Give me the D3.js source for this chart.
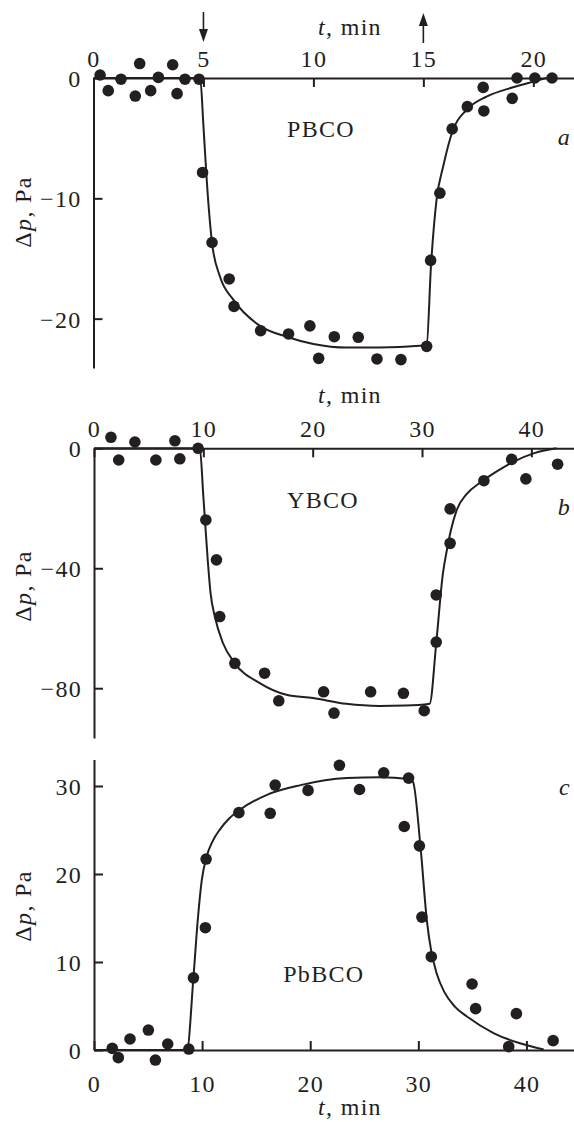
<!DOCTYPE html>
<html>
<head>
<meta charset="utf-8">
<script src="https://cdn.jsdelivr.net/npm/d3@7"></script>
<style>
  body { margin: 0; background: #fff; }
  svg text { font-family: "Liberation Serif", "Times New Roman", serif; font-size: 24px; fill: #231f20; letter-spacing: 1.3px; }
</style>
</head>
<body>
<div id="chart"></div>
<script>
// ---- data (t in min, dp in Pa) ----

// panel a, PBCO
var pbcoT = [0.3, 0.67, 1.25, 1.9, 2.1, 2.6, 2.95, 3.6, 3.8, 4.16, 4.8, 4.96, 5.39, 6.17, 6.39, 7.6, 8.87,
             9.84, 10.24, 10.95, 12.04, 12.89, 13.98, 15.15, 15.33, 15.75, 16.31, 17.0, 17.72, 17.75,
             19.04, 19.26, 20.07, 20.85];
var pbcoP = [0.25, -1.05, -0.1, -1.5, 1.2, -1.05, 0.05, 1.1, -1.3, -0.1, -0.1, -7.85, -13.67, -16.7, -18.98, -21.0, -21.27,
             -20.6, -23.3, -21.5, -21.55, -23.35, -23.4, -22.3, -15.16, -9.57, -4.23, -2.38, -0.78, -2.74,
             -1.69, 0, 0, 0];
var pbcoFitT = [0, 4.85, 5.0, 5.15, 5.39, 5.75, 6.35, 7.57, 8.78, 10.0, 11.5, 13.0, 14.84, 15.15,
                15.35, 15.6, 15.9, 16.35, 16.96, 17.87, 19.08, 20.0, 20.6];
var pbcoFitP = [0, 0, -4, -8.5, -13.7, -16.5, -18.4, -20.6, -21.5, -22.1, -22.4, -22.4, -22.25, -22.15,
                -15.5, -10.1, -7.36, -4.3, -2.66, -1.55, -0.77, -0.3, 0];

// panel b, YBCO
var ybcoT = [1.55, 2.26, 3.74, 5.66, 7.4, 7.85, 9.52, 10.23, 11.2, 11.5, 12.88, 15.6, 16.9, 21.0, 21.95,
             25.3, 28.3, 30.2, 31.3, 31.3, 32.57, 32.57, 35.66, 38.2, 39.5, 42.4];
var ybcoP = [3.67, -3.9, 2.1, -3.9, 2.5, -3.5, 0, -23.9, -37.2, -56.1, -71.7, -75, -84.2, -81.2, -88.3,
             -81.2, -81.7, -87.5, -64.6, -48.9, -31.7, -20.2, -10.8, -3.7, -10.2, -5.3];
var ybcoFitT = [0, 9.68, 10.0, 10.4, 10.66, 11.05, 11.8, 12.88, 15.16, 17.6, 20.03, 23.08, 26.1, 28.5, 30.7,
                31.3, 31.9, 32.27, 32.63, 33.17, 34.1, 35.3, 36.8, 38.36, 40.2, 42.3];
var ybcoFitP = [0, 0, -16, -37.2, -48.3, -56.1, -65, -71.7, -78.3, -82.2, -83.3, -85.2, -85.9, -85.8, -85.2,
                -65, -42, -34, -27.5, -20.6, -15.2, -11.5, -7.8, -4.5, -1.7, 0];

// panel c, PbBCO
var pbbcoT = [1.69, 2.25, 3.33, 5.03, 5.68, 6.82, 8.77, 9.2, 10.3, 10.37, 13.4, 16.3, 16.76, 19.8, 22.7,
              24.56, 26.8, 28.7, 29.1, 30.1, 30.33, 31.2, 34.97, 35.3, 38.36, 39.07, 42.47];
var pbbcoP = [0.19, -0.87, 1.25, 2.27, -1.14, 0.68, 0.11, 8.2, 13.9, 21.7, 26.97, 26.9, 30.1, 29.5, 32.35,
              29.6, 31.5, 25.4, 30.9, 23.2, 15.1, 10.6, 7.5, 4.7, 0.38, 4.13, 1.06];
var pbbcoFitT = [0, 8.6, 9.2, 9.6, 9.97, 10.4, 11.0, 11.67, 12.5, 13.5, 16.0, 19.1, 23.4, 26.5, 29.1, 29.5,
                 30.2, 30.8, 31.2, 31.7, 32.4, 33.4, 34.5, 37.0, 39.4, 41.6];
var pbbcoFitP = [0, 0, 8.3, 14.8, 19.3, 21.9, 23.8, 25.1, 26.3, 27.3, 29, 30.1, 30.9, 31.0, 30.8, 30.5,
                 23.1, 14.6, 11.2, 8.7, 6.6, 4.9, 3.8, 1.9, 0.76, 0.05];

// tick values
var xTicksA = [0, 5, 10, 15, 20];
var xTicksBC = [0, 10, 20, 30, 40];
var yTicksA = [0, -10, -20];
var yTicksB = [0, -40, -80];
var yTicksC = [0, 10, 20, 30];

// switch on / switch off times for the arrows (panel a)
var arrowTimes = [5, 15];

var ink = "#231f20";

var svg = d3.select("#chart")
    .append("svg")
    .attr("width", 574)
    .attr("height", 1122);

// one entry per panel: which data goes where
var panels = [
    {t: pbcoT, p: pbcoP, ft: pbcoFitT, fp: pbcoFitP, name: "PBCO", letter: "a",
     xDom: [0, 21.85], xRange: [93.5, 574], yDom: [0, -24.1], yRange: [78, 368],
     xTicks: xTicksA, yTicks: yTicksA, top: true,
     nameAt: [8.8, -4.9], letterAt: -5.6, tLabelY: 35, yLabelY: 212},
    {t: ybcoT, p: ybcoP, ft: ybcoFitT, fp: ybcoFitP, name: "YBCO", letter: "b",
     xDom: [0, 43.9], xRange: [94, 574], yDom: [0, -96.6], yRange: [448.3, 738],
     xTicks: xTicksBC, yTicks: yTicksB, top: true,
     nameAt: [17.66, -19.9], letterAt: -22.2, tLabelY: 403, yLabelY: 586},
    {t: pbbcoT, p: pbbcoP, ft: pbbcoFitT, fp: pbbcoFitP, name: "PbBCO", letter: "c",
     xDom: [0, 44.4], xRange: [94, 574], yDom: [0, 33], yRange: [1050, 759.6],
     xTicks: xTicksBC, yTicks: yTicksC, top: false,
     nameAt: [17.5, 7.7], letterAt: 29, tLabelY: 1115, yLabelY: 906}
];

panels.forEach(function(pn, k) {
    var x = d3.scaleLinear().domain(pn.xDom).range(pn.xRange);
    var y = d3.scaleLinear().domain(pn.yDom).range(pn.yRange);
    var g = svg.append("g");

    // x axis sits on dp = 0
    var xAxis = (pn.top ? d3.axisTop(x) : d3.axisBottom(x))
        .tickValues(pn.xTicks)
        .tickFormat(d3.format("d"))
        .tickSizeInner(-9)
        .tickSizeOuter(0)
        .tickPadding(pn.top ? 11 : 25);
    var gx = g.append("g")
        .attr("transform", "translate(0," + y(0) + ")")
        .call(xAxis);

    var yAxis = d3.axisLeft(y)
        .tickValues(pn.yTicks)
        .tickFormat(d3.format("d"))
        .tickSizeInner(-9)
        .tickSizeOuter(0)
        .tickPadding(12);
    var gy = g.append("g")
        .attr("transform", "translate(" + pn.xRange[0] + ",0)")
        .call(yAxis);

    [gx, gy].forEach(function(a) {
        a.selectAll("path, line").attr("stroke", ink).attr("stroke-width", 2);
        a.selectAll("text").attr("fill", ink);
    });
    gy.selectAll("text").attr("dy", "0.36em");

    // fitted curve
    var fit = pn.ft.map(function(d, i) { return [d, pn.fp[i]]; });
    g.append("path")
        .datum(fit)
        .attr("d", d3.line()
            .x(function(d) { return x(d[0]); })
            .y(function(d) { return y(d[1]); })
            .curve(d3.curveMonotoneX))
        .attr("fill", "none")
        .attr("stroke", ink)
        .attr("stroke-width", 2);

    // measured points
    g.selectAll("circle.pt")
        .data(pn.t.map(function(d, i) { return [d, pn.p[i]]; }))
        .enter()
        .append("circle")
        .attr("class", "pt")
        .attr("cx", function(d) { return x(d[0]); })
        .attr("cy", function(d) { return y(d[1]); })
        .attr("r", 5.8)
        .attr("fill", ink);

    // sample name and panel letter
    g.append("text")
        .attr("x", x(pn.nameAt[0]))
        .attr("y", y(pn.nameAt[1]))
        .text(pn.name);
    g.append("text")
        .attr("x", 571)
        .attr("y", y(pn.letterAt))
        .attr("text-anchor", "end")
        .style("font-style", "italic")
        .text(pn.letter);

    // axis titles
    var tl = g.append("text")
        .attr("x", 350)
        .attr("y", pn.tLabelY)
        .attr("text-anchor", "middle");
    tl.append("tspan").style("font-style", "italic").text("t");
    tl.append("tspan").text(", min");

    var yl = g.append("text")
        .attr("transform", "translate(31," + pn.yLabelY + ") rotate(-90)")
        .attr("text-anchor", "middle");
    yl.append("tspan").text("Δ");
    yl.append("tspan").style("font-style", "italic").text("p");
    yl.append("tspan").text(", Pa");

    // on / off arrows above panel a
    if (k === 0) {
        arrowTimes.forEach(function(tm, j) {
            var ax = x(tm);
            var down = j === 0;
            var tip = down ? 42 : 13, tail = down ? 12 : 43;
            var dir = down ? -1 : 1;
            g.append("line")
                .attr("x1", ax).attr("x2", ax)
                .attr("y1", tail).attr("y2", tip + dir * 8)
                .attr("stroke", ink).attr("stroke-width", 1.6);
            g.append("path")
                .attr("d", "M" + ax + "," + tip +
                           "L" + (ax - 4.5) + "," + (tip + dir * 13) +
                           "L" + (ax + 4.5) + "," + (tip + dir * 13) + "Z")
                .attr("fill", ink);
        });
    }
});
</script>
</body>
</html>
